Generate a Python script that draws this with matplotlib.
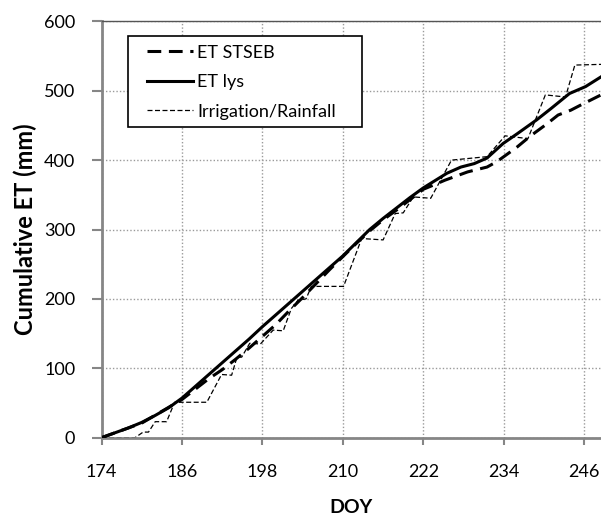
import matplotlib
matplotlib.use("Agg")
import matplotlib.pyplot as plt
from matplotlib.patches import Rectangle

plt.rcParams['font.family'] = ['Lato', 'DejaVu Sans']

# ET lysimeter (cumulative, mm)
lys_doy = [174, 176, 178, 180, 182, 184, 186, 188, 190, 192, 194, 196, 198, 200,
           202, 204, 206, 208, 210, 212, 214, 216, 218, 220, 222, 224, 225.5, 227.6,
           229.6, 231.5, 233.9, 236, 238.9, 241, 243.8, 246.2, 248.5]
lys_et = [0, 7, 14, 22, 32, 43, 57, 74, 91, 108, 125, 142, 160, 177,
          194, 211, 228, 245, 262, 281, 300, 316, 331, 346, 360, 372, 381, 390,
          395, 403, 424, 438, 458, 474, 496, 506, 520]

# ET STSEB (cumulative, mm)
stseb_doy = [174, 180, 186, 190, 192, 194, 196, 198, 200, 202, 204, 206, 208, 210,
             212, 214, 216, 218, 220, 222, 224, 225.2, 228.6, 231.5, 233, 236, 238,
             240.4, 242.1, 244, 245.4, 248.5]
stseb_et = [0, 21, 55, 85, 98, 113, 129, 146, 163, 183, 202, 222, 242, 261,
            280, 298, 314, 328, 343, 358, 366, 371, 383, 390, 398, 419, 435,
            452, 465, 472, 479, 494]

# Irrigation / rainfall (cumulative, mm)
irr_doy = [174, 179.0, 180.2, 181.0, 182.0, 183.7, 184.9, 189.7, 191.9, 193.4, 194.2,
           194.9, 196.1, 197.7, 199.6, 201.1, 202.3, 203.3, 204.5, 205.3, 210.1,
           212.8, 216.0, 217.8, 219.0, 220.5, 223.1, 226.2, 231.5, 234.2, 237.6,
           240.2, 243.2, 244.6, 248.5]
irr_mm = [0, 0, 8, 8, 23, 23, 51, 51, 91, 90, 116,
          116, 136, 135, 155, 154, 186, 198, 200, 218, 218,
          287, 285, 323, 324, 347, 345, 400, 405, 435, 431,
          494, 491, 537, 538]

x_ticks = [174, 186, 198, 210, 222, 234, 246]
y_ticks = [0, 100, 200, 300, 400, 500, 600]

fig = plt.figure(figsize=(6.01, 5.21), dpi=100)
ax = fig.add_axes([0.169, 0.160, 0.831, 0.799])

ax.plot(stseb_doy, stseb_et, color='black', lw=2.2, linestyle=(0, (4.5, 2.5)),
        label='ET STSEB', zorder=3)
ax.plot(lys_doy, lys_et, color='black', lw=2.2, linestyle='-', label='ET lys', zorder=4)
ax.plot(irr_doy, irr_mm, color='black', lw=0.9, linestyle=(0, (4, 2)),
        label='Irrigation/Rainfall', zorder=2)

ax.set_xlim(174, 248.5)
ax.set_ylim(0, 600)
ax.set_xticks(x_ticks)
ax.set_yticks(y_ticks)
ax.tick_params(axis='both', labelsize=13, color='#868686')
ax.tick_params(axis='x', length=5, width=1.5, pad=14)
ax.tick_params(axis='y', length=7, width=1.5, pad=12)

ax.grid(True, color='#9a9a9a', linestyle=(0, (1, 1.5)), linewidth=1.0)
ax.set_axisbelow(True)

for s in ['left', 'bottom']:
    ax.spines[s].set_color('#868686')
    ax.spines[s].set_linewidth(2.0)
ax.spines['top'].set_color('#555555')
ax.spines['top'].set_linewidth(1.0)
ax.spines['right'].set_visible(False)

ax.set_xlabel('DOY', fontsize=14, fontweight='bold', labelpad=14)
ax.set_ylabel('Cumulative ET (mm)', fontsize=17, fontweight='bold', labelpad=5)

# legend frame
ax.add_patch(Rectangle((0.052, 0.7469), 0.469, 0.2185, transform=ax.transAxes,
                       facecolor='white', edgecolor='black', linewidth=1.2,
                       zorder=5, clip_on=False))
leg = ax.legend(loc='upper left', bbox_to_anchor=(0.090, 0.944), fontsize=13,
                frameon=False, handlelength=2.6, handletextpad=0.2, borderpad=0,
                labelspacing=0.75, borderaxespad=0)
leg.set_zorder(6)

fig.savefig('out.png', dpi=100)
